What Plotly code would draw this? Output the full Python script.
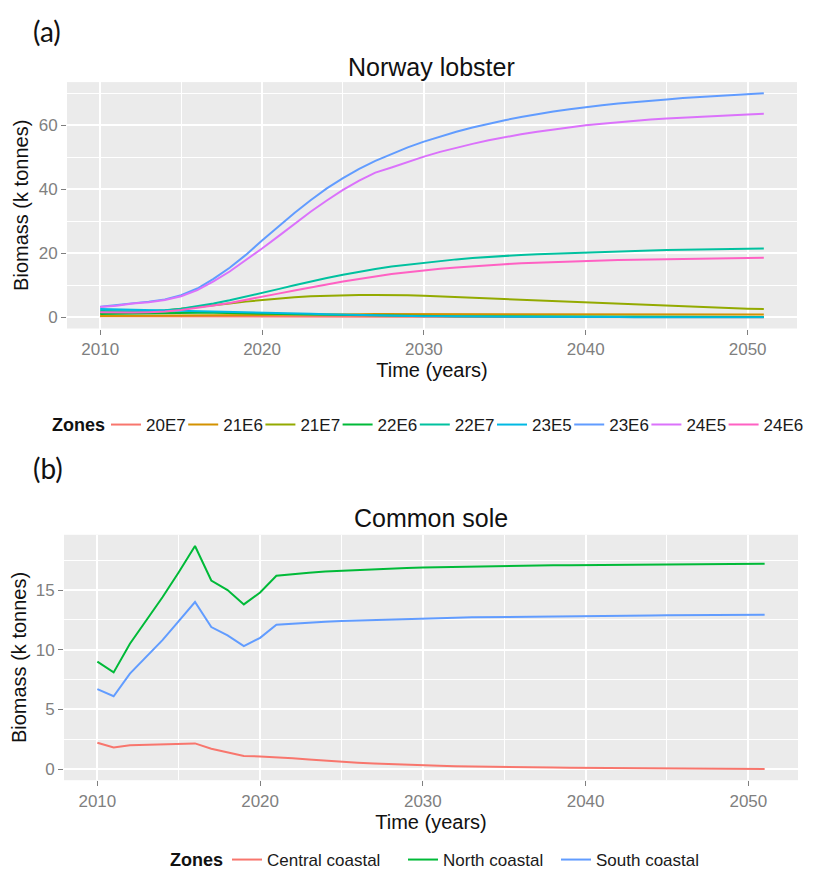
import plotly.graph_objects as go

# ---------------- data ----------------
years = list(range(2010, 2052))

zones_a = ["20E7", "21E6", "21E7", "22E6", "22E7", "23E5", "23E6", "24E5", "24E6"]
colors_a = ["#F8766D", "#D39200", "#93AA00", "#00BA38", "#00C19F", "#00B9E3", "#619CFF", "#DB72FB", "#FF61C3"]

z20E7 = [0.3, 0.3, 0.3, 0.3, 0.3, 0.3, 0.28, 0.26, 0.24, 0.22,
         0.2, 0.19, 0.18, 0.17, 0.16, 0.15, 0.14, 0.13, 0.12, 0.11,
         0.1, 0.1, 0.09, 0.09, 0.08, 0.08, 0.07, 0.07, 0.06, 0.06,
         0.06, 0.05, 0.05, 0.05, 0.05, 0.04, 0.04, 0.04, 0.04, 0.04,
         0.03, 0.03]
z21E6 = [0.4, 0.45, 0.5, 0.55, 0.6, 0.65, 0.7, 0.75, 0.8, 0.85,
         0.9, 0.92, 0.94, 0.96, 0.97, 0.98, 0.99, 1.0, 1.0, 1.0,
         1.0, 1.0, 1.0, 1.0, 1.0, 1.0, 1.0, 1.0, 1.0, 1.0,
         1.0, 0.99, 0.98, 0.97, 0.96, 0.95, 0.95, 0.94, 0.93, 0.92,
         0.91, 0.9]
z21E7 = [1.3, 1.4, 1.6, 1.8, 2.1, 2.6, 3.1, 3.7, 4.3, 4.9,
         5.4, 5.9, 6.3, 6.6, 6.8, 6.9, 7.0, 7.0, 7.0, 6.9,
         6.7, 6.5, 6.3, 6.1, 5.9, 5.7, 5.4, 5.2, 5.0, 4.8,
         4.6, 4.4, 4.2, 3.9, 3.7, 3.5, 3.3, 3.1, 3.0, 2.8,
         2.7, 2.6]
z22E6 = [1.0, 1.1, 1.2, 1.3, 1.4, 1.45, 1.45, 1.4, 1.35, 1.3,
         1.2, 1.1, 1.0, 0.9, 0.8, 0.72, 0.65, 0.58, 0.52, 0.47,
         0.42, 0.38, 0.35, 0.32, 0.3, 0.28, 0.26, 0.24, 0.23, 0.22,
         0.21, 0.2, 0.19, 0.18, 0.17, 0.16, 0.15, 0.15, 0.14, 0.14,
         0.13, 0.13]
z22E7 = [2.0, 1.9, 1.9, 2.0, 2.2, 2.7, 3.4, 4.3, 5.3, 6.4,
         7.6, 8.8, 10.0, 11.2, 12.3, 13.3, 14.3, 15.1, 15.9, 16.5,
         17.1, 17.6, 18.1, 18.5, 18.9, 19.2, 19.5, 19.7, 19.9, 20.1,
         20.3, 20.5, 20.6, 20.8, 20.9, 21.0, 21.1, 21.2, 21.3, 21.4,
         21.4, 21.5]
z23E5 = [2.6, 2.5, 2.4, 2.3, 2.2, 2.1, 2.0, 1.9, 1.8, 1.7,
         1.55, 1.4, 1.25, 1.1, 0.95, 0.82, 0.7, 0.6, 0.5, 0.42,
         0.35, 0.3, 0.26, 0.22, 0.19, 0.16, 0.14, 0.12, 0.1, 0.09,
         0.08, 0.07, 0.06, 0.05, 0.05, 0.04, 0.04, 0.03, 0.03, 0.03,
         0.02, 0.02]
z23E6 = [3.3, 3.8, 4.5, 4.9, 5.6, 6.9, 9.0, 12.0, 15.5, 19.5,
         24.0, 28.4, 32.6, 36.6, 40.3, 43.5, 46.4, 48.9, 51.1, 53.1,
         54.9, 56.5, 58.0, 59.3, 60.5, 61.6, 62.6, 63.5, 64.3, 65.0,
         65.7, 66.3, 66.8, 67.3, 67.7, 68.1, 68.5, 68.8, 69.1, 69.4,
         69.7, 70.0]
z24E5 = [3.2, 3.6, 4.3, 4.7, 5.4, 6.6, 8.5, 11.2, 14.3, 17.8,
         21.5, 25.3, 29.2, 33.0, 36.5, 39.8, 42.7, 45.2, 46.8, 48.6,
         50.2, 51.7, 53.0, 54.2, 55.3, 56.3, 57.2, 58.0, 58.7, 59.4,
         60.0, 60.5, 61.0, 61.4, 61.8, 62.1, 62.4, 62.7, 63.0, 63.2,
         63.4, 63.6]
z24E6 = [1.6, 1.5, 1.5, 1.6, 1.8, 2.3, 2.9, 3.7, 4.5, 5.4,
         6.4, 7.4, 8.4, 9.4, 10.3, 11.2, 12.0, 12.8, 13.5, 14.1,
         14.7, 15.2, 15.6, 16.0, 16.3, 16.6, 16.9, 17.1, 17.3, 17.5,
         17.6, 17.8, 17.9, 18.0, 18.1, 18.2, 18.3, 18.4, 18.4, 18.5,
         18.5, 18.6]
series_a = [z20E7, z21E6, z21E7, z22E6, z22E7, z23E5, z23E6, z24E5, z24E6]

zones_b = ["Central coastal", "North coastal", "South coastal"]
colors_b = ["#F8766D", "#00BA38", "#619CFF"]

central = [2.2, 1.8, 2.0, 2.05, 2.05, 2.1, 2.15, 1.7, 1.4, 1.1,
           1.05, 1.0, 0.9, 0.8, 0.7, 0.6, 0.53, 0.47, 0.41, 0.36,
           0.31, 0.27, 0.24, 0.21, 0.19, 0.17, 0.15, 0.13, 0.12, 0.11,
           0.1, 0.09, 0.08, 0.07, 0.06, 0.05, 0.04, 0.03, 0.03, 0.02,
           0.01, 0.0]
north = [9.0, 8.1, 10.5, 12.4, 14.4, 16.5, 18.7, 15.8, 15.0, 13.8,
         14.8, 16.2, 16.35, 16.45, 16.55, 16.62, 16.68, 16.74, 16.8, 16.85,
         16.9, 16.93, 16.96, 16.99, 17.01, 17.03, 17.05, 17.07, 17.08, 17.09,
         17.1, 17.11, 17.12, 17.13, 17.14, 17.15, 17.16, 17.17, 17.18, 17.19,
         17.2, 17.2]
south = [6.7, 6.1, 8.0, 9.4, 10.8, 12.4, 14.0, 11.9, 11.2, 10.3,
         11.0, 12.1, 12.2, 12.3, 12.35, 12.4, 12.45, 12.5, 12.55, 12.6,
         12.63, 12.66, 12.69, 12.72, 12.74, 12.76, 12.78, 12.8, 12.82, 12.83,
         12.84, 12.85, 12.86, 12.87, 12.88, 12.89, 12.9, 12.9, 12.91, 12.92,
         12.92, 12.93]
series_b = [central, north, south]

x_ticks = [2010, 2020, 2030, 2040, 2050]
y_ticks_a = [0, 20, 40, 60]
y_ticks_b = [0, 5, 10, 15]

# ---------------- figure ----------------
OFF = 8                      # page (body) margin of the browser
W, H = 814 - OFF, 879 - OFF
FONT = "Liberation Sans"
fig = go.Figure()

def px_x(p):
    return (p - OFF) / W

def px_y(p):
    return 1 - (p - OFF) / H

legend_a_names = ["legend"] + ["legend%d" % i for i in range(5, 13)]
legend_a_x = [113 + 77.2 * i for i in range(9)]    # page x of each legend key in panel (a)
for name, col, vals, lg in zip(zones_a, colors_a, series_a, legend_a_names):
    fig.add_trace(go.Scatter(x=years, y=vals, mode="lines", name=name,
                             line=dict(color=col, width=2),
                             xaxis="x", yaxis="y", legend=lg))

legend_b_names = ["legend2", "legend3", "legend4"]
legend_b_x = [233, 409, 562]     # page x of each legend key in panel (b)
for name, col, vals, lg in zip(zones_b, colors_b, series_b, legend_b_names):
    fig.add_trace(go.Scatter(x=years, y=vals, mode="lines", name=name,
                             line=dict(color=col, width=2),
                             xaxis="x2", yaxis="y2", legend=lg))

def axis(domain, rng, tickvals, anchor, title, standoff, mdtick, mtick0):
    return dict(
        domain=domain, range=rng, tickvals=tickvals, anchor=anchor,
        automargin=False,
        showgrid=True, gridcolor="white", gridwidth=1.6,
        zeroline=False, showline=False,
        ticks="outside", ticklen=5, tickwidth=1.3, tickcolor="#7F7F7F",
        tickfont=dict(family=FONT, size=17, color="#7F7F7F"),
        minor=dict(showgrid=True, gridcolor="white", gridwidth=0.7, dtick=mdtick, tick0=mtick0),
        title=dict(text=title, font=dict(family=FONT, size=20, color="#111"), standoff=standoff),
    )

x_range = [2007.95, 2053.05]
legend_font = dict(family=FONT, size=17, color="#1a1a1a")
layout_legends = {}
for lg, lx in zip(legend_a_names, legend_a_x):
    layout_legends[lg] = dict(orientation="h", x=px_x(lx - 7), xanchor="left", y=px_y(425),
                              yanchor="middle", font=legend_font,
                              bgcolor="rgba(0,0,0,0)", itemwidth=30)
for lg, lx in zip(legend_b_names, legend_b_x):
    layout_legends[lg] = dict(orientation="h", x=px_x(lx - 6), xanchor="left", y=px_y(860),
                              yanchor="middle", font=legend_font,
                              bgcolor="rgba(0,0,0,0)", itemwidth=30)

fig.update_layout(
    width=W, height=H,
    margin=dict(l=0, r=0, t=0, b=0, pad=0, autoexpand=False),
    paper_bgcolor="white",
    plot_bgcolor="#EBEBEB",
    font=dict(family=FONT, color="#1a1a1a"),
    xaxis=axis([px_x(67), px_x(797)], x_range, x_ticks, "y", "Time (years)", 2, 10, 2015),
    yaxis=axis([px_y(328.5), px_y(82.1)], [-3.5, 73.5], y_ticks_a, "x", "Biomass (k tonnes)", 4, 20, 10),
    xaxis2=axis([px_x(64), px_x(798)], x_range, x_ticks, "y2", "Time (years)", 2, 10, 2015),
    yaxis2=axis([px_y(780.2), px_y(534.8)], [-0.935, 19.635], y_ticks_b, "x2", "Biomass (k tonnes)", 4, 5, 2.5),
    showlegend=True,
    **layout_legends,
)

annotations = [
    dict(text="(a)", x=px_x(31), y=px_y(31), xanchor="left", yanchor="middle",
         font=dict(family="Lato", size=28, color="#111")),
    dict(text="(b)", x=px_x(31), y=px_y(468), xanchor="left", yanchor="middle",
         font=dict(family="Lato", size=28, color="#111")),
    dict(text="Norway lobster", x=px_x(431), y=px_y(67), xanchor="center", yanchor="middle",
         font=dict(family=FONT, size=25, color="#111")),
    dict(text="Common sole", x=px_x(431), y=px_y(518), xanchor="center", yanchor="middle",
         font=dict(family=FONT, size=25, color="#111")),
    dict(text="<b>Zones</b>", x=px_x(107), y=px_y(425), xanchor="right", yanchor="middle",
         font=dict(family=FONT, size=18, color="#111")),
    dict(text="<b>Zones</b>", x=px_x(225), y=px_y(860), xanchor="right", yanchor="middle",
         font=dict(family=FONT, size=18, color="#111")),
]
for a in annotations:
    a.update(xref="paper", yref="paper", showarrow=False)
fig.update_layout(annotations=annotations)

fig.write_html("out.html")
